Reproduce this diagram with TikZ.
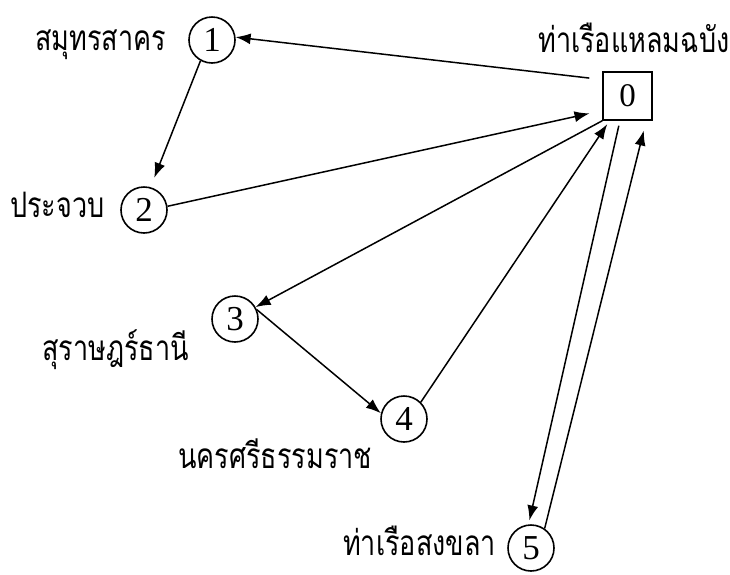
\documentclass[tikz,border=0pt]{standalone}
\usepackage{fontspec}
\setmainfont{Liberation Serif}
\newfontfamily\thai[Script=Thai]{Loma}
\usetikzlibrary{arrows.meta}
\newcommand\thtext[1]{\scalebox{1}[1.3]{\thai #1}}
\begin{document}
\begin{tikzpicture}[x=1pt,y=-1pt,
  st/.style={circle,draw,line width=1.6pt,minimum size=46pt,inner sep=0pt,font=\fontsize{35}{35}\selectfont},
  bx/.style={rectangle,draw,line width=1.6pt,minimum width=49pt,minimum height=48pt,inner sep=0pt,font=\fontsize{33}{33}\selectfont},
  lbl/.style={anchor=base west,inner sep=0pt,font=\fontsize{27}{30}\selectfont},
  arr/.style={line width=1.5pt,-{Latex[length=15pt,width=11pt]}}]
\useasboundingbox (0,0) rectangle (730,574);
\node[bx] (n0) at (627.5,96) {0};
\node[st] (n1) at (212,40) {1};
\node[st] (n2) at (144,210) {2};
\node[st] (n3) at (235,319) {3};
\node[st] (n4) at (404,419) {4};
\node[st] (n5) at (531,548) {5};
\node[lbl] (l0) at (538,52) {\thtext{ท่าเรือแหลมฉบัง}};
\node[lbl] (l1) at (35,50) {\thtext{สมุทรสาคร}};
\node[lbl] (l2) at (10,217) {\thtext{ประจวบ}};
\node[lbl] (l3) at (42,360) {\thtext{สุราษฎร์ธานี}};
\node[lbl] (l4) at (178,468) {\thtext{นครศรีธรรมราช}};
\node[lbl] (l5) at (343,555) {\thtext{ท่าเรือสงขลา}};
\draw[arr,shorten <=13pt] (n0.147) -- (n1.7);
\draw[arr,shorten >=10pt] (n1.241) -- (n2.74);
\draw[arr,shorten >=13pt] (n2.9) -- (n0.210);
\draw[arr] (n0.south west) -- (n3.30);
\draw[arr] (n3.23) -- (n4.166);
\draw[arr,shorten >=4pt] (n4.45) -- (n0.234);
\draw[arr,shorten <=5pt,shorten >=4pt] (n0.253) -- (n5.96);
\draw[arr,shorten >=10pt] (n5.55) -- (n0.307);
\end{tikzpicture}
\end{document}
